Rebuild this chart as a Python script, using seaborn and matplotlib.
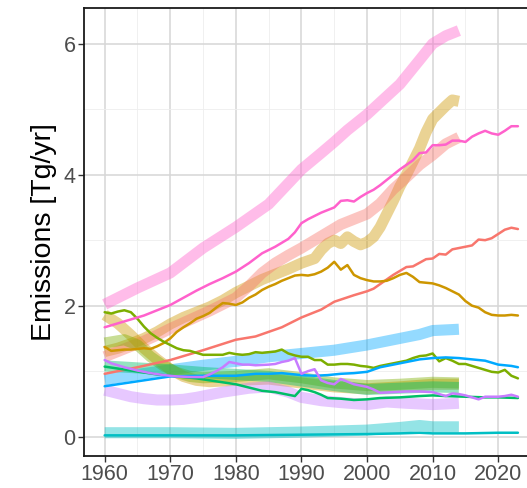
import pandas as pd
import numpy as np
import seaborn as sns
import matplotlib.pyplot as plt
from matplotlib.ticker import MultipleLocator

# thin lines (1960-2023)
red_yr = [1960, 1965, 1970, 1975, 1980, 1983, 1985, 1987, 1990, 1993, 1995, 1998, 2000, 2001, 2003, 2004, 2006, 2007, 2009, 2010, 2011, 2012, 2013, 2015, 2016, 2017, 2018, 2019, 2021, 2022, 2023]
red_val = [0.96, 1.06, 1.17, 1.32, 1.48, 1.53, 1.60, 1.67, 1.82, 1.94, 2.06, 2.16, 2.22, 2.26, 2.40, 2.47, 2.59, 2.60, 2.71, 2.72, 2.79, 2.78, 2.86, 2.90, 2.92, 3.01, 3.00, 3.03, 3.16, 3.19, 3.17]

gold_yr = list(range(1960, 2024))
gold_val = [1.37, 1.31, 1.32, 1.33, 1.33, 1.34, 1.35, 1.34, 1.38, 1.43, 1.50, 1.60, 1.67, 1.73, 1.80, 1.84,
            1.89, 1.97, 2.04, 2.03, 2.01, 2.05, 2.12, 2.17, 2.24, 2.29, 2.33, 2.38, 2.42, 2.46, 2.47, 2.46,
            2.48, 2.52, 2.58, 2.67, 2.55, 2.62, 2.47, 2.42, 2.39, 2.37, 2.37, 2.38, 2.42, 2.47, 2.50, 2.44,
            2.36, 2.35, 2.34, 2.31, 2.27, 2.22, 2.17, 2.07, 2.00, 1.97, 1.90, 1.86, 1.85, 1.85, 1.86, 1.85]

olive_yr = list(range(1960, 2024))
olive_val = [1.90, 1.88, 1.91, 1.93, 1.90, 1.80, 1.68, 1.58, 1.51, 1.45, 1.40, 1.35, 1.32, 1.31, 1.28, 1.25,
             1.25, 1.25, 1.25, 1.28, 1.26, 1.25, 1.26, 1.29, 1.28, 1.29, 1.30, 1.33, 1.27, 1.24, 1.22, 1.22,
             1.17, 1.17, 1.10, 1.10, 1.11, 1.11, 1.10, 1.08, 1.07, 1.05, 1.08, 1.10, 1.12, 1.14, 1.16, 1.20,
             1.23, 1.24, 1.27, 1.15, 1.20, 1.16, 1.11, 1.11, 1.08, 1.05, 1.02, 0.99, 0.98, 1.02, 0.93, 0.89]

green_yr = [1960, 1962, 1964, 1966, 1968, 1970, 1972, 1974, 1976, 1978, 1980, 1982, 1984, 1986, 1988, 1989, 1990, 1991, 1992, 1993, 1994, 1996, 1998, 2000, 2002, 2005, 2008, 2010, 2012, 2015, 2018, 2020, 2023]
green_val = [1.07, 1.04, 1.01, 0.98, 0.95, 0.93, 0.91, 0.89, 0.86, 0.83, 0.80, 0.75, 0.70, 0.68, 0.64, 0.62, 0.73, 0.71, 0.68, 0.64, 0.59, 0.58, 0.56, 0.57, 0.59, 0.60, 0.62, 0.63, 0.62, 0.61, 0.60, 0.60, 0.59]

teal_yr = [1960, 1970, 1980, 1990, 2000, 2005, 2008, 2010, 2015, 2020, 2023]
teal_val = [0.02, 0.02, 0.02, 0.03, 0.04, 0.05, 0.06, 0.05, 0.05, 0.06, 0.06]

blue_yr = [1960, 1962, 1964, 1966, 1968, 1970, 1975, 1980, 1983, 1985, 1987, 1988, 1990, 1992, 1994, 1996, 1998, 2000, 2002, 2004, 2006, 2008, 2010, 2012, 2014, 2016, 2018, 2020, 2022, 2023]
blue_val = [0.77, 0.80, 0.83, 0.86, 0.89, 0.92, 0.93, 0.93, 0.96, 0.96, 0.97, 0.96, 0.94, 0.93, 0.94, 0.96, 0.97, 0.99, 1.06, 1.10, 1.14, 1.18, 1.20, 1.21, 1.20, 1.18, 1.16, 1.10, 1.08, 1.06]

purple_yr = [1960, 1961, 1963, 1965, 1967, 1969, 1971, 1973, 1975, 1976, 1977, 1978, 1979, 1980, 1981, 1982, 1983, 1985, 1986, 1987, 1988, 1989, 1990, 1991, 1992, 1993, 1994, 1995, 1996, 1997, 1998, 1999, 2000, 2001, 2002, 2004, 2006, 2008, 2010, 2011, 2012, 2013, 2014, 2015, 2016, 2017, 2018, 2020, 2021, 2022, 2023]
purple_val = [1.17, 1.12, 1.06, 1.01, 0.97, 0.94, 0.92, 0.91, 0.91, 0.95, 1.00, 1.06, 1.14, 1.12, 1.10, 1.10, 1.09, 1.10, 1.11, 1.14, 1.16, 1.20, 0.96, 1.00, 1.03, 0.86, 0.82, 0.80, 0.88, 0.84, 0.80, 0.78, 0.76, 0.72, 0.67, 0.68, 0.69, 0.69, 0.68, 0.65, 0.62, 0.66, 0.65, 0.63, 0.60, 0.57, 0.61, 0.61, 0.62, 0.64, 0.61]

pink_yr = [1960, 1962, 1964, 1966, 1968, 1970, 1972, 1974, 1976, 1978, 1980, 1982, 1984, 1986, 1988, 1989, 1990, 1991, 1992, 1993, 1994, 1995, 1996, 1997, 1998, 1999, 2000, 2001, 2002, 2003, 2004, 2005, 2006, 2007, 2008, 2009, 2010, 2011, 2012, 2013, 2014, 2015, 2016, 2017, 2018, 2019, 2020, 2021, 2022, 2023]
pink_val = [1.67, 1.73, 1.79, 1.85, 1.93, 2.01, 2.12, 2.23, 2.33, 2.42, 2.52, 2.65, 2.80, 2.90, 3.02, 3.12, 3.26, 3.32, 3.37, 3.42, 3.46, 3.50, 3.60, 3.61, 3.59, 3.66, 3.72, 3.77, 3.84, 3.92, 4.00, 4.08, 4.15, 4.22, 4.33, 4.34, 4.45, 4.45, 4.46, 4.52, 4.52, 4.50, 4.58, 4.63, 4.67, 4.63, 4.61, 4.67, 4.74, 4.74]

# thick lines (1960-2014)
pink_thick_yr = [1960, 1965, 1970, 1975, 1980, 1985, 1990, 1993, 1995, 1997, 2000, 2005, 2008, 2010, 2012, 2014]
pink_thick_val = [2.02, 2.27, 2.50, 2.88, 3.20, 3.55, 4.08, 4.33, 4.50, 4.68, 4.92, 5.38, 5.75, 6.00, 6.12, 6.20]

gold_thick_yr = [1960, 1962, 1964, 1966, 1968, 1970, 1972, 1974, 1976, 1978, 1980, 1982, 1984, 1986, 1988, 1990, 1992, 1993, 1994, 1995, 1996, 1997, 1998, 1999, 2000, 2001, 2002, 2003, 2004, 2005, 2006, 2007, 2008, 2009, 2010, 2011, 2012, 2013, 2014]
gold_thick_val = [1.30, 1.35, 1.42, 1.50, 1.60, 1.72, 1.82, 1.90, 1.98, 2.08, 2.20, 2.30, 2.40, 2.48, 2.56, 2.65, 2.72, 2.85, 2.95, 3.00, 2.95, 3.05, 2.98, 2.93, 2.97, 3.05, 3.20, 3.40, 3.60, 3.82, 4.00, 4.20, 4.40, 4.65, 4.85, 4.95, 5.05, 5.14, 5.12]

red_thick_yr = [1960, 1962, 1964, 1966, 1968, 1970, 1972, 1974, 1976, 1978, 1980, 1982, 1984, 1986, 1988, 1990, 1992, 1994, 1996, 1998, 2000, 2002, 2004, 2006, 2008, 2010, 2012, 2014]
red_thick_val = [1.22, 1.30, 1.38, 1.46, 1.55, 1.65, 1.74, 1.83, 1.92, 2.02, 2.12, 2.30, 2.50, 2.65, 2.77, 2.88, 3.00, 3.12, 3.24, 3.32, 3.40, 3.56, 3.78, 3.96, 4.15, 4.30, 4.47, 4.57]

blue_thick_yr = [1960, 1965, 1970, 1975, 1980, 1985, 1990, 1995, 2000, 2003, 2005, 2008, 2010, 2012, 2014]
blue_thick_val = [0.87, 0.95, 1.02, 1.09, 1.15, 1.22, 1.27, 1.32, 1.40, 1.46, 1.50, 1.56, 1.62, 1.63, 1.64]

green_thick_yr = [1960, 1965, 1970, 1975, 1980, 1985, 1990, 1995, 2000, 2005, 2010, 2014]
green_thick_val = [1.08, 1.05, 1.02, 0.98, 0.95, 0.92, 0.85, 0.78, 0.72, 0.74, 0.76, 0.75]

olive_thick_yr = [1960, 1963, 1965, 1967, 1969, 1971, 1973, 1975, 1980, 1985, 1990, 1995, 2000, 2005, 2010, 2014]
olive_thick_val = [1.43, 1.48, 1.40, 1.22, 1.08, 0.98, 0.92, 0.90, 0.92, 0.96, 0.90, 0.82, 0.78, 0.80, 0.83, 0.82]

tan_thick_yr = [1960, 1962, 1964, 1966, 1968, 1970, 1972, 1974, 1976, 1980, 1985, 1990, 1995, 2000, 2005, 2010, 2014]
tan_thick_val = [1.86, 1.73, 1.55, 1.35, 1.18, 1.03, 0.92, 0.86, 0.84, 0.86, 0.88, 0.82, 0.76, 0.73, 0.76, 0.80, 0.80]

purple_thick_yr = [1960, 1962, 1964, 1966, 1968, 1970, 1972, 1974, 1976, 1978, 1980, 1982, 1985, 1988, 1990, 1993, 1996, 2000, 2003, 2006, 2010, 2012, 2014]
purple_thick_val = [0.71, 0.66, 0.61, 0.58, 0.56, 0.56, 0.57, 0.60, 0.64, 0.68, 0.71, 0.74, 0.76, 0.68, 0.60, 0.55, 0.52, 0.49, 0.53, 0.51, 0.49, 0.50, 0.51]

teal_thick_yr = [1960, 1970, 1980, 1990, 2000, 2005, 2008, 2010, 2014]
teal_thick_val = [0.06, 0.06, 0.05, 0.07, 0.10, 0.14, 0.17, 0.15, 0.15]

colors = {"red": "#F8766D", "gold": "#CD9600", "olive": "#7CAE00", "green": "#00BE67",
          "teal": "#00BFC4", "blue": "#00A9FF", "purple": "#C77CFF", "pink": "#FF61CC", "tan": "#CD9600"}


def long_df(pairs):
    frames = []
    for name, yrs, vals in pairs:
        frames.append(pd.DataFrame({"year": yrs, "value": vals, "series": name}))
    return pd.concat(frames, ignore_index=True)


thick_df = long_df([
    ("pink", pink_thick_yr, pink_thick_val),
    ("gold", gold_thick_yr, gold_thick_val),
    ("red", red_thick_yr, red_thick_val),
    ("blue", blue_thick_yr, blue_thick_val),
    ("tan", tan_thick_yr, tan_thick_val),
    ("olive", olive_thick_yr, olive_thick_val),
    ("green", green_thick_yr, green_thick_val),
    ("purple", purple_thick_yr, purple_thick_val),
    ("teal", teal_thick_yr, teal_thick_val),
])
thin_df = long_df([
    ("red", red_yr, red_val),
    ("gold", gold_yr, gold_val),
    ("olive", olive_yr, olive_val),
    ("green", green_yr, green_val),
    ("teal", teal_yr, teal_val),
    ("blue", blue_yr, blue_val),
    ("purple", purple_yr, purple_val),
    ("pink", pink_yr, pink_val),
])

sns.set_style("white")
plt.rcParams["font.family"] = ["Liberation Sans", "DejaVu Sans"]

fig = plt.figure(figsize=(5.27, 4.88), dpi=100)
ax = fig.add_axes([0.1594, 0.0656, 0.8626, 0.918])

sns.lineplot(data=thick_df, x="year", y="value", hue="series", palette=colors,
             linewidth=8, alpha=0.42, legend=False, ax=ax, estimator=None,
             solid_capstyle="butt", solid_joinstyle="round")
sns.lineplot(data=thin_df, x="year", y="value", hue="series", palette=colors,
             linewidth=1.8, legend=False, ax=ax, estimator=None,
             solid_joinstyle="round")

ax.set_xlim(1956.85, 2026.15)
ax.set_ylim(-0.295, 6.545)
ax.xaxis.set_major_locator(MultipleLocator(10))
ax.xaxis.set_minor_locator(MultipleLocator(5))
ax.yaxis.set_major_locator(MultipleLocator(2))
ax.yaxis.set_minor_locator(MultipleLocator(1))
ax.grid(which="major", color="#D6D6D6", linewidth=1.1)
ax.grid(which="minor", color="#EEEEEE", linewidth=0.6)
ax.set_axisbelow(True)

for s in ax.spines.values():
    s.set_color("#1a1a1a")
    s.set_linewidth(1.3)

ax.tick_params(which="major", length=4, width=1.0, color="#333333",
               labelsize=15.5, labelcolor="#4D4D4D", pad=2,
               bottom=True, left=True)
ax.tick_params(which="minor", length=0)
ax.set_xlabel("")
ax.set_ylabel("Emissions [Tg/yr]", fontsize=20.5, color="black", labelpad=5)

fig.savefig("out.png", dpi=100)
